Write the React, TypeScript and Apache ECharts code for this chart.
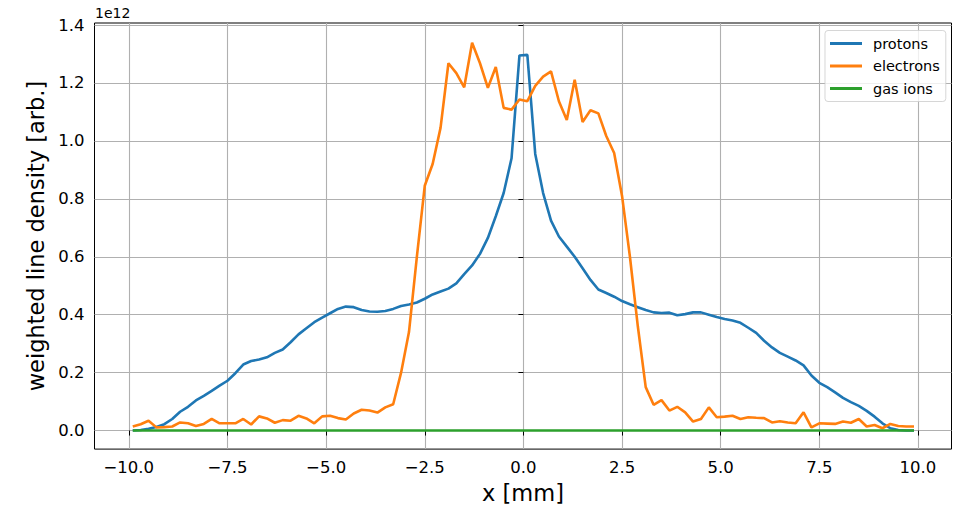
import { useEffect, useRef } from "react";
import * as echarts from "echarts";

const X_MM = [
  -9.9, -9.7, -9.5, -9.3, -9.1, -8.9, -8.7, -8.5, -8.3, -8.1,
  -7.9, -7.7, -7.5, -7.3, -7.1, -6.9, -6.7, -6.5, -6.3, -6.1,
  -5.9, -5.7, -5.5, -5.3, -5.1, -4.9, -4.7, -4.5, -4.3, -4.1,
  -3.9, -3.7, -3.5, -3.3, -3.1, -2.9, -2.7, -2.5, -2.3, -2.1,
  -1.9, -1.7, -1.5, -1.3, -1.1, -0.9, -0.7, -0.5, -0.3, -0.1,
  0.1, 0.3, 0.5, 0.7, 0.9, 1.1, 1.3, 1.5, 1.7, 1.9,
  2.1, 2.3, 2.5, 2.7, 2.9, 3.1, 3.3, 3.5, 3.7, 3.9,
  4.1, 4.3, 4.5, 4.7, 4.9, 5.1, 5.3, 5.5, 5.7, 5.9,
  6.1, 6.3, 6.5, 6.7, 6.9, 7.1, 7.3, 7.5, 7.7, 7.9,
  8.1, 8.3, 8.5, 8.7, 8.9, 9.1, 9.3, 9.5, 9.7, 9.9,
];

// values in units of 1e12
const PROTONS = [
  0.0, 0.002, 0.006, 0.012, 0.022, 0.04, 0.065, 0.082, 0.104, 0.12,
  0.137, 0.155, 0.172, 0.198, 0.228, 0.24, 0.245, 0.253, 0.268, 0.28,
  0.305, 0.332, 0.353, 0.374, 0.39, 0.405, 0.42, 0.428, 0.426, 0.416,
  0.411, 0.41, 0.413, 0.42, 0.43, 0.435, 0.442, 0.455, 0.47, 0.48,
  0.49, 0.508, 0.54, 0.57, 0.61, 0.665, 0.74, 0.82, 0.94, 1.295,
  1.297, 0.955, 0.82, 0.725, 0.67, 0.635, 0.6, 0.56, 0.52, 0.487,
  0.475, 0.462, 0.447, 0.436, 0.426, 0.416, 0.408, 0.406, 0.407, 0.398,
  0.402, 0.408, 0.408, 0.4, 0.392, 0.385, 0.38, 0.372, 0.355, 0.337,
  0.31, 0.287, 0.268, 0.255, 0.242, 0.225, 0.19, 0.165, 0.15, 0.132,
  0.113, 0.098, 0.085, 0.068, 0.048, 0.025, 0.008, 0.002, 0.0, 0.0,
];

const ELECTRONS = [
  0.014, 0.022, 0.034, 0.011, 0.012, 0.014, 0.028, 0.025, 0.016, 0.023,
  0.04, 0.025, 0.025, 0.025, 0.04, 0.021, 0.049, 0.042, 0.027, 0.036,
  0.034, 0.051, 0.042, 0.025, 0.049, 0.051, 0.043, 0.038, 0.059, 0.072,
  0.069, 0.062, 0.08, 0.091, 0.2, 0.34, 0.6, 0.845, 0.92, 1.045,
  1.268, 1.234, 1.185, 1.339, 1.268, 1.183, 1.255, 1.114, 1.108, 1.143,
  1.137, 1.19, 1.222, 1.24, 1.137, 1.072, 1.211, 1.065, 1.106, 1.095,
  1.017, 0.958, 0.81, 0.6, 0.36, 0.15, 0.089, 0.105, 0.069, 0.082,
  0.063, 0.031, 0.04, 0.08, 0.046, 0.048, 0.051, 0.04, 0.046, 0.044,
  0.043, 0.028, 0.032, 0.028, 0.025, 0.063, 0.011, 0.025, 0.024, 0.023,
  0.031, 0.027, 0.04, 0.014, 0.019, 0.008, 0.023, 0.016, 0.014, 0.014,
];

const GAS_IONS = [
  0, 0, 0, 0, 0, 0, 0, 0, 0, 0,
  0, 0, 0, 0, 0, 0, 0, 0, 0, 0,
  0, 0, 0, 0, 0, 0, 0, 0, 0, 0,
  0, 0, 0, 0, 0, 0, 0, 0, 0, 0,
  0, 0, 0, 0, 0, 0, 0, 0, 0, 0,
  0, 0, 0, 0, 0, 0, 0, 0, 0, 0,
  0, 0, 0, 0, 0, 0, 0, 0, 0, 0,
  0, 0, 0, 0, 0, 0, 0, 0, 0, 0,
  0, 0, 0, 0, 0, 0, 0, 0, 0, 0,
  0, 0, 0, 0, 0, 0, 0, 0, 0, 0,
];

const X_TICKS = [-10, -7.5, -5, -2.5, 0, 2.5, 5, 7.5, 10];
const Y_TICKS = [0, 0.2, 0.4, 0.6, 0.8, 1.0, 1.2, 1.4];
const SERIES_NAMES = ["protons", "electrons", "gas ions"];
const COLORS = ["#1f77b4", "#ff7f0e", "#2ca02c"];

const FONT = "'DejaVu Sans', sans-serif";

function fmt(v: number): string {
  const s = Math.abs(v).toFixed(1);
  return v < 0 ? "\u2212" + s : s;
}

export default function App() {
  const ref = useRef<HTMLDivElement>(null);

  useEffect(() => {
    if (!ref.current) return;
    const chart = echarts.init(ref.current, null, { renderer: "svg" });
    const seriesData = [PROTONS, ELECTRONS, GAS_IONS];
    chart.setOption({
      animation: false,
      backgroundColor: "#ffffff",
      textStyle: { fontFamily: FONT },
      grid: {
        left: 94.5,
        right: 6.5,
        top: 23,
        bottom: 57,
        show: true,
        borderColor: "#000",
        borderWidth: 1,
        backgroundColor: "transparent",
        containLabel: false,
      },
      graphic: [
        {
          type: "text",
          left: 95,
          top: 6,
          style: { text: "1e12", fontSize: 14, fontFamily: FONT, fill: "#000" },
        },
      ],
      legend: {
        orient: "vertical",
        left: 825,
        top: 30.5,
        icon: "rect",
        itemWidth: 32,
        itemHeight: 3,
        itemGap: 6.5,
        padding: [5, 6, 5, 5],
        selectedMode: false,
        backgroundColor: "rgba(255,255,255,0.8)",
        borderColor: "rgba(204,204,204,0.8)",
        borderWidth: 1,
        borderRadius: 3,
        textStyle: {
          fontSize: 14.5,
          fontFamily: FONT,
          color: "#000",
          lineHeight: 16,
          padding: [0, 0, 0, 6],
        },
        data: SERIES_NAMES,
      },
      xAxis: {
        type: "value",
        min: -10.87,
        max: 10.85,
        position: "bottom",
        axisLine: { show: false },
        axisTick: {
          show: true,
          customValues: X_TICKS,
          length: 5,
          lineStyle: { color: "#000", width: 1 },
        },
        axisLabel: {
          customValues: X_TICKS,
          formatter: (v: number) => fmt(v),
          margin: 10,
          fontSize: 16.5,
          fontFamily: FONT,
          color: "#000",
        },
        splitLine: { show: true, lineStyle: { color: "#b0b0b0", width: 1.1 } },
        name: "x [mm]",
        nameLocation: "middle",
        nameGap: 28,
        nameTextStyle: { fontSize: 22.5, fontFamily: FONT, color: "#000" },
      },
      yAxis: {
        type: "value",
        min: -0.064,
        max: 1.407,
        axisLine: { show: false },
        axisTick: {
          show: true,
          customValues: Y_TICKS,
          length: 5,
          lineStyle: { color: "#000", width: 1 },
        },
        axisLabel: {
          customValues: Y_TICKS,
          formatter: (v: number) => fmt(v),
          margin: 10,
          fontSize: 16.5,
          fontFamily: FONT,
          color: "#000",
        },
        splitLine: { show: true, lineStyle: { color: "#b0b0b0", width: 1.1 } },
        name: "weighted line density [arb.]",
        nameLocation: "middle",
        nameGap: 43,
        nameTextStyle: { fontSize: 22.5, fontFamily: FONT, color: "#000" },
      },
      series: SERIES_NAMES.map((name, k) => ({
        name,
        type: "line",
        showSymbol: false,
        symbol: "none",
        color: COLORS[k],
        itemStyle: { color: COLORS[k] },
        lineStyle: { color: COLORS[k], width: 2.6 },
        z: 2 + k,
        data: X_MM.map((x, i) => [x, seriesData[k][i]]),
      })),
    });
    return () => chart.dispose();
  }, []);

  return (
    <div
      ref={ref}
      style={{ position: "absolute", left: 0, top: 0, width: 958, height: 509 }}
    />
  );
}
